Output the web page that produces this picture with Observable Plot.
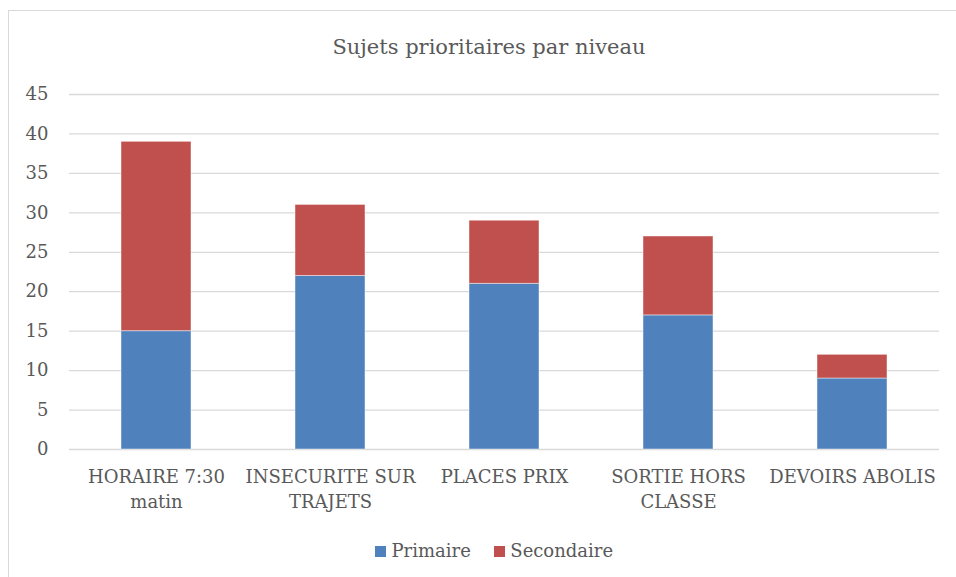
<!DOCTYPE html>
<html>
<head>
<meta charset="utf-8">
<script src="https://cdn.jsdelivr.net/npm/d3@7"></script>
<script src="https://cdn.jsdelivr.net/npm/@observablehq/plot@0.6"></script>
<style>
  html, body { margin: 0; padding: 0; background: #fff; overflow: hidden; }
  #wrap { position: relative; width: 956px; height: 577px; overflow: hidden; font-family: "DejaVu Serif", serif; color: #595959; }
  #frame { position: absolute; left: 8px; top: 10px; width: 1000px; height: 700px; border: 1.5px solid #d9d9d9; box-sizing: border-box; }
  #chart { position: absolute; left: 0; top: 0; }
  #title { position: absolute; left: 0; width: 978px; top: 37px; text-align: center; font-size: 21px; line-height: 21px; white-space: nowrap; }
  #legend { position: absolute; left: 375px; top: 541.5px; font-size: 18px; line-height: 18px; white-space: nowrap; }
  #legend .item { display: inline-block; }
  #legend .item + .item { margin-left: 23px; }
  #legend .sw { display: inline-block; width: 11px; height: 11px; margin-right: 5.5px; vertical-align: baseline; }
</style>
</head>
<body>
<div id="wrap">
  <div id="frame"></div>
  <div id="chart"></div>
  <div id="title"></div>
  <div id="legend"></div>
</div>
<script>
const titleText = "Sujets prioritaires par niveau";
const categories = ["HORAIRE 7:30 matin", "INSECURITE SUR TRAJETS", "PLACES PRIX", "SORTIE HORS CLASSE", "DEVOIRS ABOLIS"];
const tickLabels = ["HORAIRE 7:30\nmatin", "INSECURITE SUR\nTRAJETS", "PLACES PRIX", "SORTIE HORS\nCLASSE", "DEVOIRS ABOLIS"];
const series = ["Primaire", "Secondaire"];
const primaire = [15, 22, 21, 17, 9];
const secondaire = [24, 9, 8, 10, 3];
const colors = ["#4f81bd", "#c0504d"];
const yTicks = [0, 5, 10, 15, 20, 25, 30, 35, 40, 45];

const values = [primaire, secondaire];
const rows = [];
series.forEach((s, si) => {
  categories.forEach((c, ci) => rows.push({category: c, series: s, value: values[si][ci]}));
});

const textColor = "#595959";

const plot = Plot.plot({
  width: 956,
  height: 577,
  marginLeft: 69,
  marginRight: 17,
  marginTop: 94,
  marginBottom: 128,
  style: { fontFamily: "DejaVu Serif", fontSize: "18px", color: textColor, background: "transparent", overflow: "visible" },
  x: { domain: categories, paddingInner: 0.6, paddingOuter: 0.3, label: null },
  y: { domain: [0, 45], label: null },
  color: { domain: series, range: colors },
  marks: [
    Plot.gridY(yTicks, { stroke: "#d9d9d9", strokeOpacity: 1, strokeWidth: 1.3 }),
    Plot.barY(rows, { x: "category", y: "value", fill: "series", stroke: "white", strokeOpacity: 0.45, strokeWidth: 1 }),
    Plot.axisY(yTicks, { tickSize: 0, tickPadding: 21, fill: textColor, fontSize: 18, label: null }),
    Plot.axisX({ tickSize: 0, tickPadding: 16, fill: textColor, fontSize: 18, lineHeight: 1.39, label: null,
      tickFormat: d => tickLabels[categories.indexOf(d)] })
  ]
});
document.getElementById("chart").appendChild(plot);

document.getElementById("title").textContent = titleText;

const legend = document.getElementById("legend");
series.forEach((s, i) => {
  const item = document.createElement("span");
  item.className = "item";
  const sw = document.createElement("span");
  sw.className = "sw";
  sw.style.background = colors[i];
  item.appendChild(sw);
  item.appendChild(document.createTextNode(s));
  legend.appendChild(item);
});
</script>
</body>
</html>
